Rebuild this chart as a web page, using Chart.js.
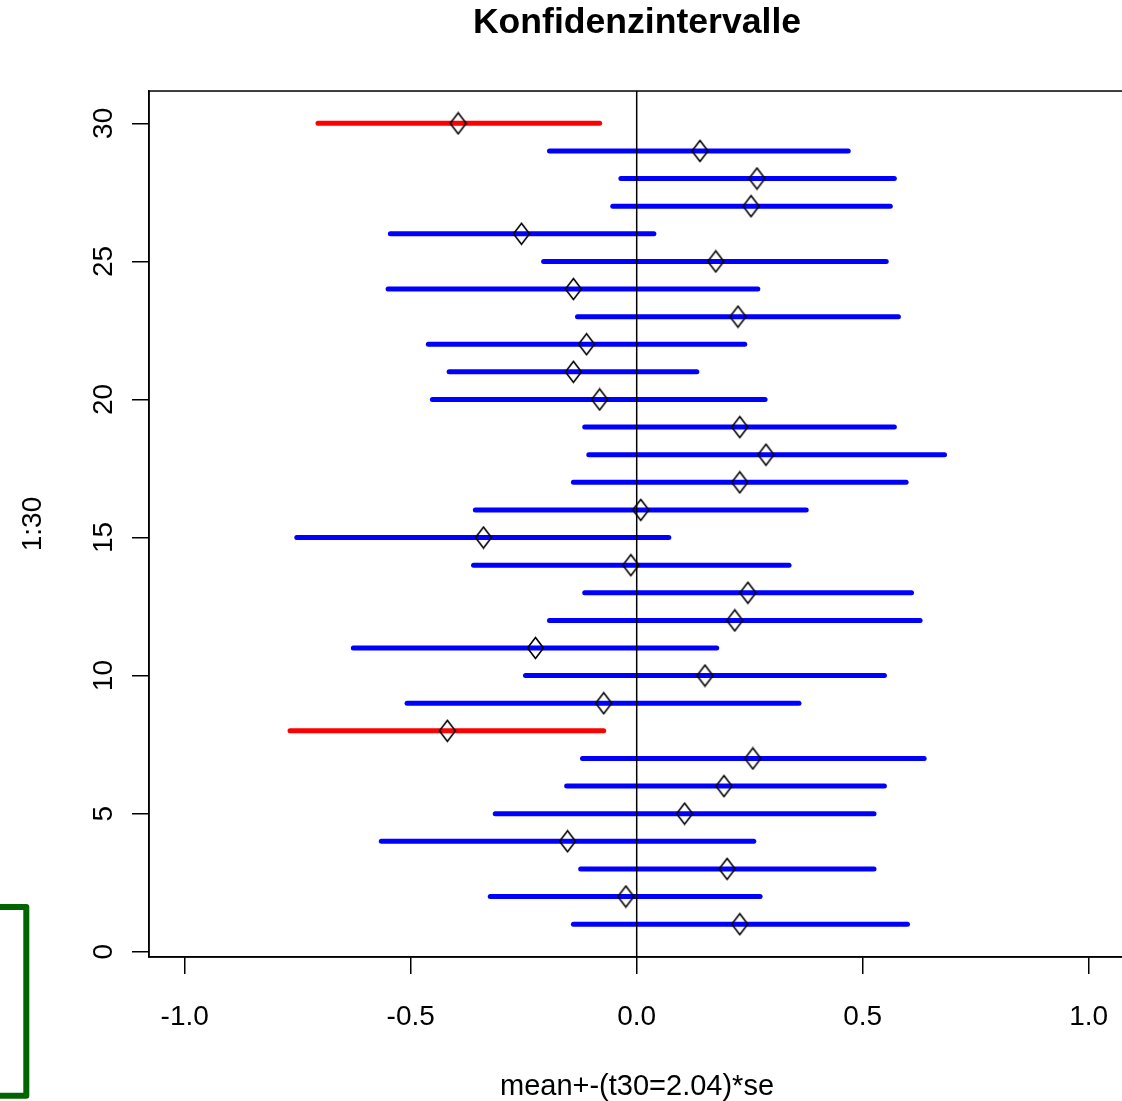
<!DOCTYPE html>
<html>
<head>
<meta charset="utf-8">
<script src="https://cdn.jsdelivr.net/npm/chart.js@4.4.1/dist/chart.umd.min.js"></script>
<style>
  html, body { margin: 0; padding: 0; overflow: hidden; background: #fff; width: 1122px; height: 1101px; }
  #wrap { width: 1136px; height: 1101px; }
  canvas { display: block; }
</style>
</head>
<body>
<div id="wrap"><canvas id="c" width="1136" height="1101"></canvas></div>
<script>
// ---- data ----
const indices = [1,2,3,4,5,6,7,8,9,10,11,12,13,14,15,16,17,18,19,20,21,22,23,24,25,26,27,28,29,30];
const lowerBounds = [-0.140,-0.324,-0.124,-0.565,-0.313,-0.155,-0.120,-0.767,-0.508,-0.246,
                     -0.627,-0.193,-0.115,-0.361,-0.752,-0.357,-0.140,-0.106,-0.115,-0.452,
                     -0.415,-0.461,-0.131,-0.550,-0.206,-0.545,-0.053,-0.035,-0.193,-0.705];
const upperBounds = [0.599,0.273,0.525,0.259,0.525,0.548,0.636,-0.073,0.359,0.548,
                     0.177,0.627,0.608,0.337,0.071,0.375,0.596,0.681,0.570,0.284,
                     0.133,0.239,0.579,0.268,0.552,0.038,0.561,0.570,0.468,-0.082];
const means = [0.228,-0.024,0.200,-0.153,0.106,0.193,0.257,-0.419,-0.073,0.151,
               -0.224,0.217,0.246,-0.013,-0.339,0.009,0.228,0.286,0.228,-0.082,
               -0.140,-0.111,0.224,-0.140,0.175,-0.255,0.253,0.266,0.140,-0.395];
const xTicks = [-1.0, -0.5, 0.0, 0.5, 1.0];
const yTicks = [0, 5, 10, 15, 20, 25, 30];
const titleText = 'Konfidenzintervalle';
const xTitle = 'mean+-(t30=2.04)*se';
const yTitle = '1:30';

// ---- diamond marker ----
const dia = document.createElement('canvas');
dia.width = 19; dia.height = 24;
(function(){
  const g = dia.getContext('2d');
  g.strokeStyle = '#000'; g.lineWidth = 1.6;
  g.beginPath();
  g.moveTo(9.5, 1.5); g.lineTo(17.5, 12); g.lineTo(9.5, 22.5); g.lineTo(1.5, 12); g.closePath();
  g.stroke();
})();

const FONT = '"Liberation Sans", Arial, Helvetica, sans-serif';

const datasets = [{
  label: 'mean',
  data: indices.map((y, i) => ({x: means[i], y})),
  showLine: false,
  pointStyle: dia,
  pointRadius: 10,
  order: 0
}];
indices.forEach((y, i) => {
  const covers = lowerBounds[i] <= 0 && upperBounds[i] >= 0;
  datasets.push({
    label: 'ci' + y,
    data: [{x: lowerBounds[i], y}, {x: upperBounds[i], y}],
    showLine: true,
    borderColor: covers ? '#0000FF' : '#FF0000',
    borderWidth: 5,
    borderCapStyle: 'round',
    pointRadius: 0,
    order: 1
  });
});

const decor = {
  id: 'decor',
  afterDatasetsDraw(chart) {
    const {ctx, chartArea: a, scales: {x}} = chart;
    const x0 = x.getPixelForValue(0);
    ctx.save();
    ctx.strokeStyle = '#000'; ctx.lineWidth = 1.5;
    ctx.beginPath(); ctx.moveTo(x0, a.top); ctx.lineTo(x0, a.bottom); ctx.stroke();
    ctx.restore();
  },
  afterDraw(chart) {
    const {ctx, chartArea: a} = chart;
    ctx.save();
    ctx.strokeStyle = '#000'; ctx.lineWidth = 1.5;
    ctx.strokeRect(a.left, a.top, a.right - a.left, a.bottom - a.top);
    ctx.strokeStyle = '#006400'; ctx.lineWidth = 6; ctx.lineJoin = 'round';
    ctx.strokeRect(-20, 907, 46.3, 188.7);
    ctx.restore();
  }
};

new Chart(document.getElementById('c'), {
  type: 'scatter',
  data: { datasets },
  options: {
    responsive: false,
    animation: false,
    events: [],
    layout: { padding: 0 },
    plugins: {
      legend: { display: false },
      tooltip: { enabled: false },
      title: {
        display: true,
        text: titleText,
        fullSize: false,
        color: '#000',
        font: { family: FONT, size: 35.6, weight: 'bold', lineHeight: 1.2 },
        padding: { top: 2, bottom: 46.3 }
      }
    },
    scales: {
      x: {
        type: 'linear',
        min: -1.079, max: 1.0803,
        afterBuildTicks: s => { s.ticks = xTicks.map(v => ({value: v})); },
        afterFit: s => { s.height = 144; s.paddingLeft = 0; s.paddingRight = 0; },
        ticks: {
          color: '#000', padding: 26, maxRotation: 0, autoSkip: false,
          font: { family: FONT, size: 28 },
          callback: v => Number(v).toFixed(1)
        },
        grid: { display: true, drawOnChartArea: false, drawTicks: true, tickLength: 17, color: '#000', lineWidth: 1.5 },
        border: { display: true, color: '#000', width: 1.5 },
        title: { display: true, text: xTitle, color: '#000', font: { family: FONT, size: 29, lineHeight: 1.0 }, padding: { top: 0, bottom: 0 } }
      },
      y: {
        type: 'linear',
        min: -0.19, max: 31.17,
        afterBuildTicks: s => { s.ticks = yTicks.map(v => ({value: v})); },
        afterFit: s => { s.width = 149; s.paddingTop = 0; s.paddingBottom = 0; },
        ticks: {
          color: '#000', padding: 12, minRotation: 90, maxRotation: 90, crossAlign: 'center', autoSkip: false,
          font: { family: FONT, size: 28 },
          callback: v => String(v)
        },
        grid: { display: true, drawOnChartArea: false, drawTicks: true, tickLength: 17, color: '#000', lineWidth: 1.5 },
        border: { display: true, color: '#000', width: 1.5 },
        title: { display: true, text: yTitle, color: '#000', font: { family: FONT, size: 28, lineHeight: 1.2 }, padding: { top: 16, bottom: 0 } }
      }
    }
  },
  plugins: [decor]
});
</script>
</body>
</html>
